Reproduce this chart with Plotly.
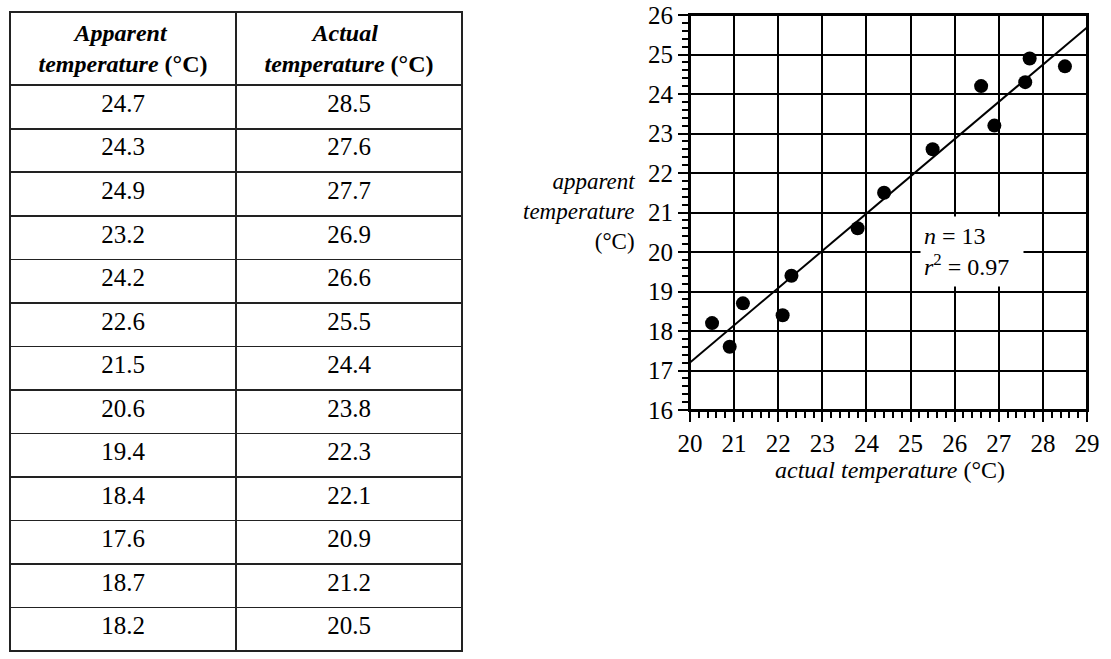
import numpy as np
import plotly.graph_objects as go

apparent = [24.7, 24.3, 24.9, 23.2, 24.2, 22.6, 21.5, 20.6, 19.4, 18.4, 17.6, 18.7, 18.2]
actual = [28.5, 27.6, 27.7, 26.9, 26.6, 25.5, 24.4, 23.8, 22.3, 22.1, 20.9, 21.2, 20.5]
header_labels = ["&nbsp;" * 6 + "<b><i>Apparent</i></b><br><b><i>temperature</i> (°C)</b>",
                 "&nbsp;" * 8 + "<b><i>Actual</i></b><br><b><i>temperature</i> (°C)</b>"]
x_ticks = list(range(20, 30))
y_ticks = list(range(16, 27))
n_label = "<i>n</i> = 13"
r2_label = "<i>r</i><sup>2</sup> = 0.97"

FONT = "Liberation Serif, Times New Roman, serif"
W, H = 1111, 659


def px(v):
    return v / W


def py(v):
    return 1 - v / H


slope, intercept = np.polyfit(actual, apparent, 1)
line_x = [20, 29]
line_y = [slope * v + intercept for v in line_x]

header_h = 72

fig = go.Figure()

fig.add_trace(go.Table(
    domain=dict(x=[px(10), px(462)], y=[py(655), py(12)]),
    columnwidth=[1, 1],
    header=dict(values=header_labels, height=header_h, align="center",
                fill_color="white", line=dict(color="#222222", width=1.6),
                font=dict(family=FONT, size=24, color="black")),
    cells=dict(values=[[f"{v:.1f}" for v in apparent], [f"{v:.1f}" for v in actual]],
               height=(650 - 12 - header_h) / len(apparent), align="center",
               fill_color="white",
               line=dict(color="#222222", width=1.6),
               font=dict(family=FONT, size=25, color="black")),
))

fig.add_trace(go.Scatter(x=line_x, y=line_y, mode="lines",
                         line=dict(color="black", width=2), showlegend=False,
                         hoverinfo="skip"))
fig.add_trace(go.Scatter(x=actual, y=apparent, mode="markers",
                         marker=dict(color="black", size=14), showlegend=False))

axis_common = dict(showgrid=True, gridcolor="black", gridwidth=1.6,
                   showline=True, linecolor="black", linewidth=2, mirror=True,
                   ticks="outside", ticklen=10, tickwidth=1.6, tickcolor="black",
                   zeroline=False, automargin=False, ticklabeloverflow="allow",
                   tickfont=dict(family=FONT, size=25, color="black"))

fig.update_layout(
    width=W, height=H,
    margin=dict(l=0, r=0, t=0, b=0),
    paper_bgcolor="white", plot_bgcolor="white",
    font=dict(family=FONT, color="black"),
    xaxis=dict(domain=[px(690), px(1087)], range=[20, 29],
               tickvals=x_ticks, ticktext=[str(v) for v in x_ticks],
               minor=dict(dtick=0.2, tick0=20, ticks="outside", ticklen=6,
                          tickwidth=1.5, tickcolor="black", showgrid=False),
               **axis_common),
    yaxis=dict(domain=[py(410), py(15)], range=[16, 26],
               tickvals=y_ticks, ticktext=[str(v) for v in y_ticks],
               minor=dict(dtick=0.2, tick0=16, ticks="outside", ticklen=6,
                          tickwidth=1.5, tickcolor="black", showgrid=False),
               **axis_common),
)

# plot frame
fig.add_shape(type="rect", xref="x domain", yref="y domain", x0=0, x1=1, y0=0, y1=1,
              line=dict(color="black", width=2), fillcolor="rgba(0,0,0,0)", layer="above")

fig.add_annotation(x=25.22, y=20.0, xref="x", yref="y",
                   xanchor="left", yanchor="middle",
                   width=96, height=63,
                   text=n_label + "<br>" + r2_label, showarrow=False,
                   align="left", bgcolor="white", borderpad=3,
                   font=dict(family=FONT, size=24, color="black"))

fig.add_annotation(x=px(637), y=py(212), xref="paper", yref="paper",
                   xanchor="right", yanchor="middle", align="right",
                   text="<i>apparent</i><br><i>temperature</i><br>(°C)",
                   showarrow=False, font=dict(family=FONT, size=23, color="black"))

fig.add_annotation(x=px(890), y=py(470), xref="paper", yref="paper",
                   xanchor="center", yanchor="middle",
                   text="<i>actual temperature</i> (°C)",
                   showarrow=False, font=dict(family=FONT, size=24, color="black"))

fig.write_html("out.html", config={"displayModeBar": False},
               post_script="document.body.style.margin='0';")
